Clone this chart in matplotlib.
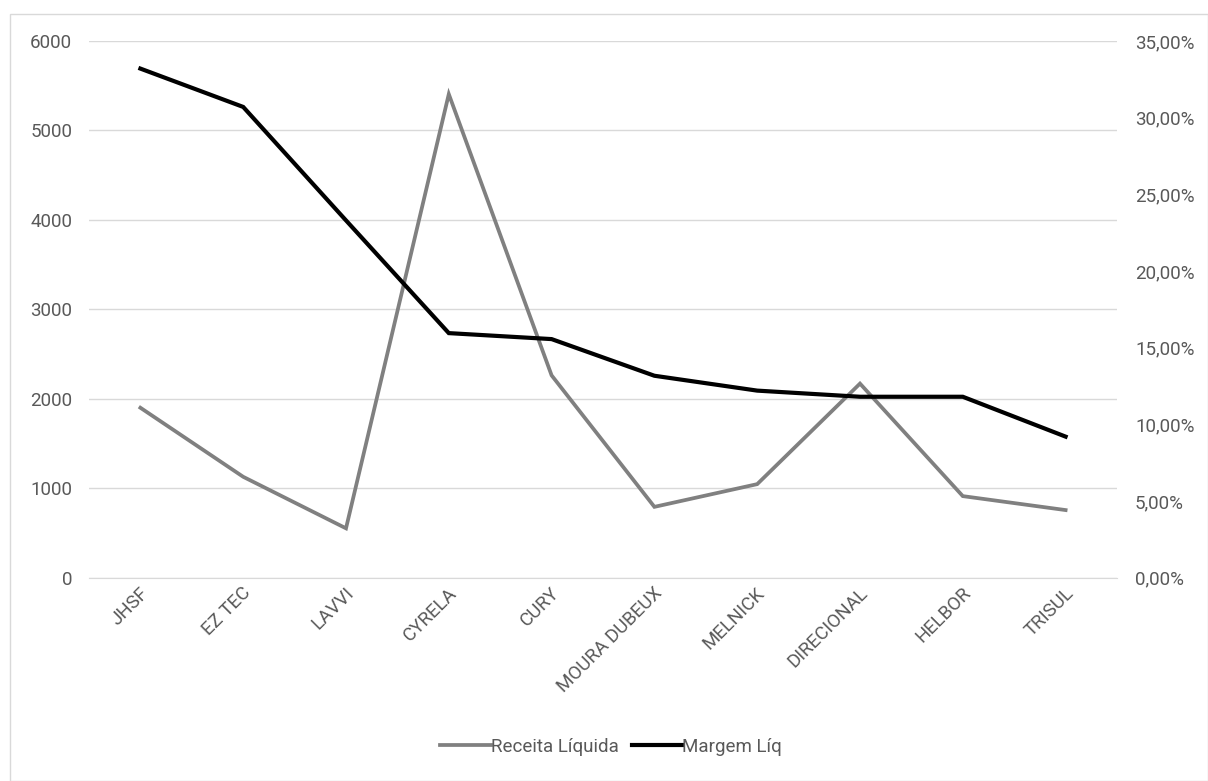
import matplotlib
matplotlib.use('Agg')
import matplotlib.pyplot as plt
from matplotlib.patches import Rectangle
from matplotlib.ticker import FuncFormatter
from matplotlib.transforms import ScaledTranslation

CATEGORIES = ['JHSF', 'EZ TEC', 'LAVVI', 'CYRELA', 'CURY', 'MOURA DUBEUX',
              'MELNICK', 'DIRECIONAL', 'HELBOR', 'TRISUL']
RECEITA = [1900, 1128, 552, 5406, 2262, 792, 1046, 2170, 912, 756]
MARGEM = [33.2, 30.7, 23.3, 15.95, 15.56, 13.17, 12.2, 11.8, 11.8, 9.2]
LEFT_TICKS = [0, 1000, 2000, 3000, 4000, 5000, 6000]
RIGHT_TICKS = [0, 5, 10, 15, 20, 25, 30, 35]

TEXT = '#595959'
GRID = '#d9d9d9'
FS = 13.5

plt.rcParams['font.family'] = ['Roboto', 'DejaVu Sans']

W, H = 1208, 781
fig = plt.figure(figsize=(W / 100, H / 100), dpi=100)

# outer chart border
fig.add_artist(Rectangle((10 / W, 0), (W - 10) / W, (H - 14) / H,
                         transform=fig.transFigure, fill=False,
                         edgecolor='#d9d9d9', linewidth=1))

left, right, top, bottom = 89, 1117, 41, 577.7
ax = fig.add_axes([left / W, 1 - bottom / H, (right - left) / W, (bottom - top) / H])
ax2 = ax.twinx()

x = list(range(len(CATEGORIES)))
ax.plot(x, RECEITA, color='#808080', linewidth=2.7, solid_joinstyle='miter',
        label='Receita Líquida', zorder=3)
ax2.plot(x, MARGEM, color='#000000', linewidth=3.0, solid_joinstyle='miter',
         label='Margem Líq', zorder=3)

ax.set_xlim(-0.5, len(CATEGORIES) - 0.5)
ax.set_ylim(0, 6000)
ax2.set_ylim(0, 35)
ax.set_yticks(LEFT_TICKS)
ax2.set_yticks(RIGHT_TICKS)
ax2.yaxis.set_major_formatter(FuncFormatter(lambda v, p: f'{v:.2f}%'.replace('.', ',')))

ax.grid(axis='y', color=GRID, linewidth=1)
ax.set_axisbelow(True)
for a in (ax, ax2):
    for s in a.spines.values():
        s.set_visible(False)
    a.tick_params(length=0, labelsize=FS, colors=TEXT)
ax.spines['bottom'].set_visible(True)
ax.spines['bottom'].set_color(GRID)
ax.tick_params(axis='y', pad=12)
ax2.tick_params(axis='y', pad=13)

ax.set_xticks(x)
ax.set_xticklabels(CATEGORIES, rotation=45, ha='right', va='center',
                   rotation_mode='anchor')
ax.tick_params(axis='x', pad=9)
shift = ScaledTranslation(5 / 100, 0, fig.dpi_scale_trans)
for lbl in ax.get_xticklabels():
    lbl.set_transform(lbl.get_transform() + shift)

h1, l1 = ax.get_legend_handles_labels()
h2, l2 = ax2.get_legend_handles_labels()
leg = fig.legend(h1 + h2, l1 + l2, loc='center', bbox_to_anchor=(611 / W, 1 - 747 / H),
                 ncol=2, frameon=False, fontsize=FS, handlelength=2.7,
                 handletextpad=0.0, columnspacing=0.7)
for t in leg.get_texts():
    t.set_color(TEXT)

fig.savefig('out.png', dpi=100)
